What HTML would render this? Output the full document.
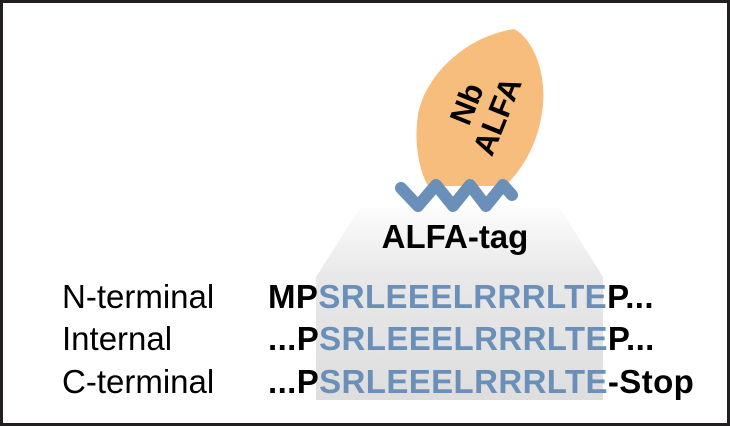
<!DOCTYPE html>
<html><head><style>
html,body{margin:0;padding:0;background:#fff;}
svg{display:block;}
text{font-family:"Liberation Sans",Arial,sans-serif;}
</style></head><body>
<svg width="730" height="426" viewBox="0 0 730 426" xmlns="http://www.w3.org/2000/svg">
<defs>
<linearGradient id="g" x1="0" y1="0" x2="0" y2="1">
<stop offset="0" stop-color="#fcfcfc"/>
<stop offset="0.35" stop-color="#e8e8e8"/>
<stop offset="1" stop-color="#dedede"/>
</linearGradient>
</defs>
<rect x="1.5" y="1.5" width="727" height="423" fill="#fff" stroke="#231f20" stroke-width="3"/>
<path d="M360,208 L560,208 L603,277 L603,400 L316,400 L316,277 Z" fill="url(#g)"/>
<path d="M514,29 C532,38 546,70 543,104 C540,140 524,168 505,186 L428,186 C418,168 414,140 418,115 C424,80 460,38 514,29 Z" fill="#f6bd7d"/>
<polyline points="401,188 418,206 436,185 453,206 470,185 486,206 503,185 512,195" fill="none" stroke="#6a8fb8" stroke-width="12" stroke-linecap="round" stroke-linejoin="round"/>
<g transform="translate(482,110) rotate(-68)" font-weight="bold" font-size="31" fill="#000" text-anchor="middle">
<text x="0" y="-6">Nb</text>
<text x="0" y="27">ALFA</text>
</g>
<text x="455" y="248" font-size="33" font-weight="bold" text-anchor="middle" fill="#000">ALFA-tag</text>
<g font-size="33" fill="#000">
<text x="62" y="308">N-terminal</text>
<text x="62" y="350">Internal</text>
<text x="62" y="393">C-terminal</text>
</g>
<g font-size="33" font-weight="bold" fill="#000" letter-spacing="0.4">
<text x="268" y="308">MP<tspan fill="#6a8fb8">SRLEEELRRRLTE</tspan>P...</text>
<text x="268" y="350">...P<tspan fill="#6a8fb8">SRLEEELRRRLTE</tspan>P...</text>
<text x="268" y="393">...P<tspan fill="#6a8fb8">SRLEEELRRRLTE</tspan>-Stop</text>
</g>
</svg>
</body></html>
